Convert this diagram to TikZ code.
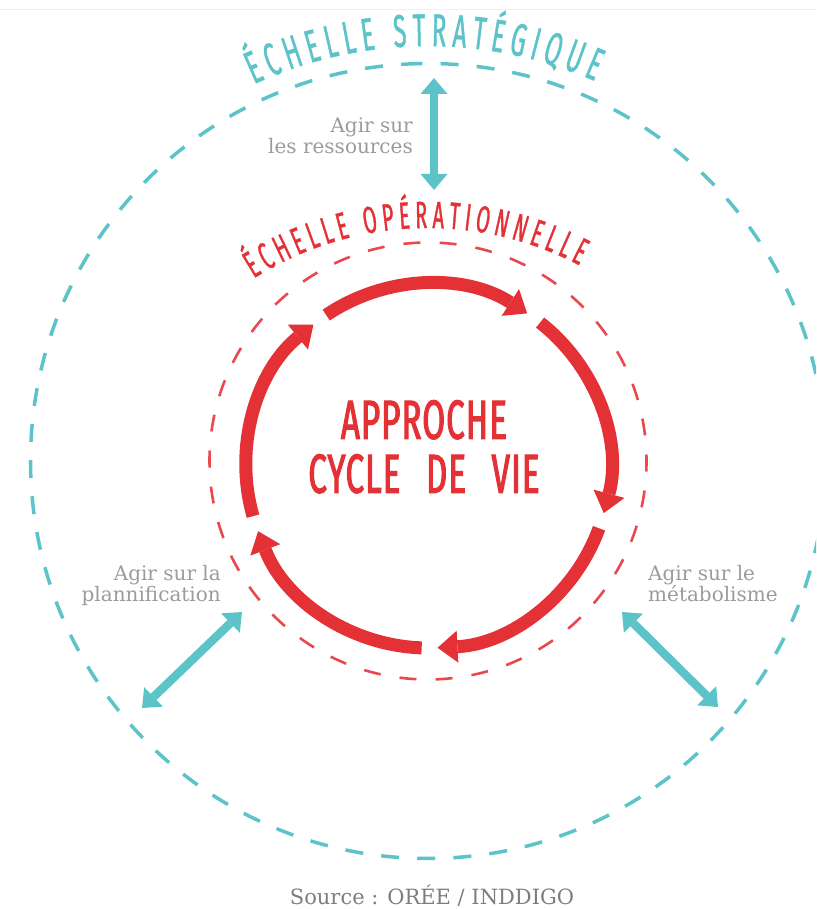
\documentclass[tikz,border=0pt]{standalone}
\usepackage{fontspec}
\setmainfont{DejaVu Serif}
\newfontfamily\dispfont[FakeStretch=0.52,FakeBold=1]{Fira Sans}
\newfontfamily\titlefont[FakeStretch=0.6,FakeBold=2,LetterSpace=2,WordSpace=2.6]{Fira Sans}
\usetikzlibrary{arrows.meta,decorations.text,calc}
\definecolor{tealc}{RGB}{92,196,200}
\definecolor{redc}{RGB}{228,49,54}
\definecolor{reddash}{RGB}{232,72,78}
\definecolor{greytxt}{RGB}{155,155,155}
\definecolor{srctxt}{RGB}{125,125,125}
\newcommand{\outerfmt}{\dispfont\fontsize{46}{46}\selectfont}
\newcommand{\innerfmt}{\dispfont\fontsize{38}{38}\selectfont}
\begin{document}
\begin{tikzpicture}[x=1pt,y=1pt,
  ringarrow/.style={color=redc, line width=13pt, -{Triangle[length=20pt,width=32pt,line width=0pt]}},
  tealarrow/.style={color=tealc, line width=8.5pt, {Triangle[length=16pt,width=27pt,line width=0pt]}-{Triangle[length=16pt,width=27pt,line width=0pt]}},
  outerdash/.style={draw=tealc, line width=3.5pt, dash pattern=on 18pt off 18.15pt},
  innerdash/.style={draw=reddash, line width=2.6pt, dash pattern=on 17pt off 19.13pt},
  lbl/.style={font=\fontsize{20}{21}\selectfont, text=greytxt, inner sep=0pt},
  srclbl/.style={font=\fontsize{21}{21}\selectfont, text=srctxt, inner sep=0pt},
  titlelbl/.style={font=\titlefont\fontsize{55}{54}\selectfont, text=redc, align=center, inner sep=0pt}]
\useasboundingbox (0,0) rectangle (816,909);
\clip (0,0) rectangle (816,909);
\draw[black!6, line width=1pt] (0,899) -- (816,899);
% centres
\coordinate (C0) at (428,448);
\coordinate (RC) at (428,443);
\coordinate (TC) at (428,355);
% outer strategic circle
\draw[outerdash] ($(C0)+(91.3:397.5)$) arc[start angle=91.3, delta angle=360, radius=397.5];
% inner operational circle
\draw[innerdash] ($(C0)+(92:218.5)$) arc[start angle=92, delta angle=360, radius=218.5];
% arc texts
\path[decorate, decoration={text along path, text={|\outerfmt|ÉCHELLE STRATÉGIQUE}, text align={fit to path}, text color=tealc}]
  ($(C0)+(114.8:415)$) arc[start angle=114.8, end angle=66.3, radius=415];
\path[decorate, decoration={text along path, text={|\innerfmt|ÉCHELLE OPÉRATIONNELLE}, text align={fit to path}, text color=redc}]
  ($(TC)+(122.3:326)$) arc[start angle=122.3, end angle=62.3, radius=326];
% life cycle ring
\foreach \s in {124,52,-20,-92,-164}
  \draw[ringarrow] ($(RC)+(\s:182)$) arc[start angle=\s, delta angle=-67, radius=182];
% centre title
\node[titlelbl, anchor=north] (title) at (424,509) {APPROCHE\\CYCLE DE VIE};
% teal arrows
\coordinate (vtop) at (434,831);
\coordinate (vbot) at (434,719);
\coordinate (ltop) at (242,297);
\coordinate (lbot) at (142,201);
\coordinate (rtop) at (622,297);
\coordinate (rbot) at (718,202);
\draw[tealarrow] (vtop) -- (vbot);
\draw[tealarrow] (ltop) -- (lbot);
\draw[tealarrow] (rtop) -- (rbot);
% labels
\node[lbl, anchor=north east, align=right] (ress) at (413,791) {Agir sur\\les ressources};
\node[lbl, anchor=north east, align=right] (plan) at (221,344) {Agir sur la\\plannification};
\node[lbl, anchor=north west, align=left] (meta) at (648,344) {Agir sur le\\métabolisme};
\node[srclbl, anchor=base] (src) at (432,5) {Source : ORÉE / INDDIGO};
\end{tikzpicture}
\end{document}
